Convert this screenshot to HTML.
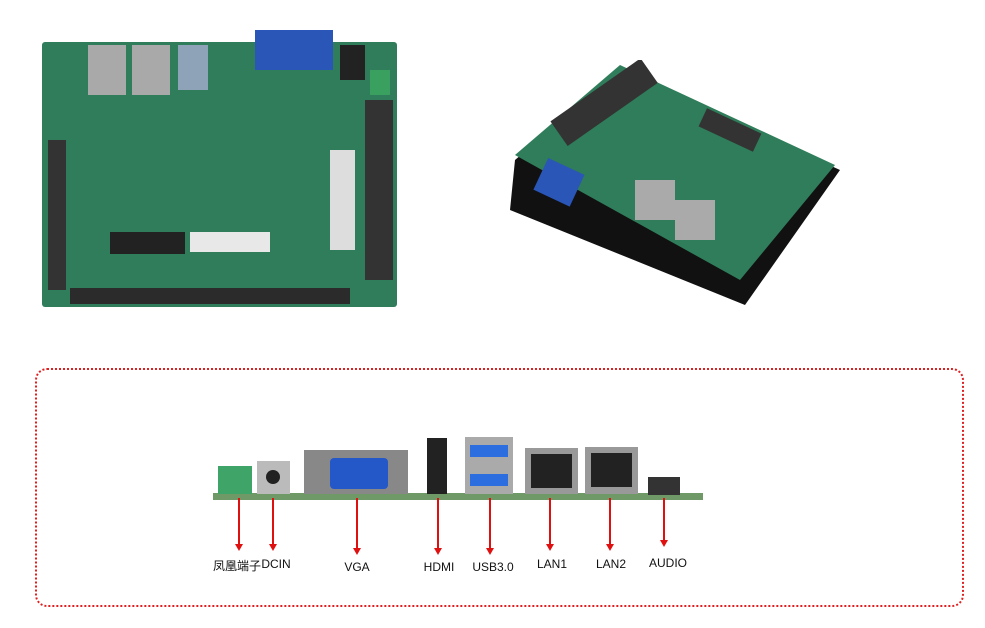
<!DOCTYPE html>
<html><head><meta charset="utf-8"><style>
body{margin:0;width:985px;height:628px;background:#fff;position:relative;overflow:hidden;font-family:"Liberation Sans","Noto Sans CJK SC",sans-serif}
.a{position:absolute}
.lbl{position:absolute;font-size:12px;color:#111;transform:translateX(-50%);white-space:nowrap}
</style></head><body>
<!-- top-left board -->
<div class="a" style="left:42px;top:42px;width:355px;height:265px;background:#2f7d5a;border-radius:3px"></div>
<div class="a" style="left:88px;top:45px;width:38px;height:50px;background:#a9a9a9"></div>
<div class="a" style="left:132px;top:45px;width:38px;height:50px;background:#a9a9a9"></div>
<div class="a" style="left:178px;top:45px;width:30px;height:45px;background:#8fa3b8"></div>
<div class="a" style="left:255px;top:30px;width:78px;height:40px;background:#2a56b8"></div>
<div class="a" style="left:340px;top:45px;width:25px;height:35px;background:#222"></div>
<div class="a" style="left:370px;top:70px;width:20px;height:25px;background:#3aa060"></div>
<div class="a" style="left:330px;top:150px;width:25px;height:100px;background:#ddd"></div>
<div class="a" style="left:365px;top:100px;width:28px;height:180px;background:#333"></div>
<div class="a" style="left:110px;top:232px;width:75px;height:22px;background:#222"></div>
<div class="a" style="left:190px;top:232px;width:80px;height:20px;background:#e8e8e8"></div>
<div class="a" style="left:48px;top:140px;width:18px;height:150px;background:#333"></div>
<div class="a" style="left:70px;top:288px;width:280px;height:16px;background:#2b2b2b"></div>
<!-- right board -->
<svg class="a" style="left:500px;top:60px" width="360" height="250">
<polygon points="15,100 120,10 340,110 245,245 10,150" fill="#111"/>
<polygon points="15,95 120,5 335,105 240,220" fill="#2f7d5a"/>
<rect x="40" y="105" width="40" height="35" fill="#2a56b8" transform="rotate(25 60 120)"/>
<rect x="135" y="120" width="40" height="40" fill="#aaa"/>
<rect x="175" y="140" width="40" height="40" fill="#aaa"/>
<rect x="50" y="30" width="110" height="30" fill="#333" transform="rotate(-35 100 45)"/>
<rect x="200" y="60" width="60" height="20" fill="#333" transform="rotate(25 230 70)"/>
</svg>
<!-- dotted frame -->
<div class="a" style="left:35px;top:368px;width:925px;height:235px;border:2px dotted #e02020;border-radius:12px"></div>
<!-- strip -->
<div class="a" style="left:213px;top:493px;width:490px;height:7px;background:#6f9a68"></div>
<div class="a" style="left:218px;top:466px;width:34px;height:28px;background:#3fa468"></div>
<div class="a" style="left:257px;top:461px;width:33px;height:33px;background:#bbb"><div class="a" style="left:9px;top:9px;width:14px;height:14px;border-radius:50%;background:#222"></div></div>
<div class="a" style="left:304px;top:450px;width:104px;height:44px;background:#888"></div>
<div class="a" style="left:330px;top:458px;width:58px;height:31px;background:#2458c8;border-radius:4px"></div>
<div class="a" style="left:427px;top:438px;width:20px;height:56px;background:#222"></div>
<div class="a" style="left:465px;top:437px;width:48px;height:57px;background:#aaa"></div>
<div class="a" style="left:470px;top:445px;width:38px;height:12px;background:#2c6ee0"></div>
<div class="a" style="left:470px;top:474px;width:38px;height:12px;background:#2c6ee0"></div>
<div class="a" style="left:525px;top:448px;width:53px;height:46px;background:#999"><div class="a" style="left:6px;top:6px;width:41px;height:34px;background:#222"></div></div>
<div class="a" style="left:585px;top:447px;width:53px;height:47px;background:#999"><div class="a" style="left:6px;top:6px;width:41px;height:34px;background:#222"></div></div>
<div class="a" style="left:648px;top:477px;width:32px;height:18px;background:#333"></div>
<!-- arrows -->
<svg class="a" style="left:0;top:0" width="985" height="628">
<g stroke="#e01010" stroke-width="2" fill="#e01010">
<line x1="239" y1="498" x2="239" y2="546"/><polygon points="235,544 243,544 239,551" stroke="none"/>
<line x1="273" y1="498" x2="273" y2="546"/><polygon points="269,544 277,544 273,551" stroke="none"/>
<line x1="357" y1="498" x2="357" y2="550"/><polygon points="353,548 361,548 357,555" stroke="none"/>
<line x1="438" y1="498" x2="438" y2="550"/><polygon points="434,548 442,548 438,555" stroke="none"/>
<line x1="490" y1="498" x2="490" y2="550"/><polygon points="486,548 494,548 490,555" stroke="none"/>
<line x1="550" y1="498" x2="550" y2="546"/><polygon points="546,544 554,544 550,551" stroke="none"/>
<line x1="610" y1="498" x2="610" y2="546"/><polygon points="606,544 614,544 610,551" stroke="none"/>
<line x1="664" y1="498" x2="664" y2="542"/><polygon points="660,540 668,540 664,547" stroke="none"/>
</g></svg>
<div class="lbl" style="left:237px;top:557px">凤凰端子</div>
<div class="lbl" style="left:276px;top:557px">DCIN</div>
<div class="lbl" style="left:357px;top:560px">VGA</div>
<div class="lbl" style="left:439px;top:560px">HDMI</div>
<div class="lbl" style="left:493px;top:560px">USB3.0</div>
<div class="lbl" style="left:552px;top:557px">LAN1</div>
<div class="lbl" style="left:611px;top:557px">LAN2</div>
<div class="lbl" style="left:668px;top:556px">AUDIO</div>
</body></html>
